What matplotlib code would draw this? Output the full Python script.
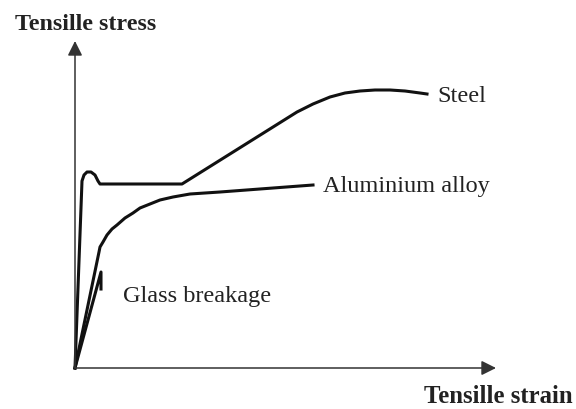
import matplotlib
matplotlib.use("Agg")
import matplotlib.pyplot as plt

# curves (strain, stress in arbitrary units, origin at 0,0)
steel_x = [0, 7, 9, 12, 16, 20, 23, 25, 107, 222, 238, 255, 270, 285, 300, 315, 330, 345, 352]
steel_y = [0, 187, 193, 196, 196, 193, 187, 184, 184, 256, 264, 271, 275, 277, 278, 278, 277, 275, 274]

alu_x = [0, 24, 25, 28, 32, 37, 42, 50, 58, 65, 75, 85, 98, 115, 130, 145, 238]
alu_y = [0, 116, 121, 126, 133, 139, 143, 150, 155, 160, 164, 168, 171, 174, 175, 176, 183]

glass_x = [0, 26, 26]
glass_y = [0, 96, 79]

labels = ["Steel", "Aluminium alloy", "Glass breakage"]
label_pos = [(362, 273), (248, 182), (48, 72)]

fig = plt.figure(figsize=(5.76, 4.10), dpi=100)
ax = fig.add_axes([0, 0, 1, 1])
ax.set_xlim(-75, 501)
ax.set_ylim(-41, 369)
ax.axis("off")

plt.rcParams['font.family'] = ['Liberation Serif', 'DejaVu Serif']

# axes with arrows
ax.annotate("", xy=(0, 327), xytext=(0, 0),
            arrowprops=dict(arrowstyle="-|>", color="#333333", lw=1.1,
                            mutation_scale=22, shrinkA=0, shrinkB=0))
ax.annotate("", xy=(421, 0), xytext=(0, 0),
            arrowprops=dict(arrowstyle="-|>", color="#333333", lw=1.1,
                            mutation_scale=22, shrinkA=0, shrinkB=0))

lw = 2.2
ax.plot(steel_x, steel_y, color="#111111", lw=lw, solid_joinstyle="round")
ax.plot(alu_x, alu_y, color="#111111", lw=lw, solid_joinstyle="round")
ax.plot(glass_x, glass_y, color="#111111", lw=lw, solid_joinstyle="round")

for lab, (px, py) in zip(labels, label_pos):
    ax.text(px, py, lab, fontsize=17.5, color="#222222", va="center", ha="left")

ax.text(-60, 344, "Tensille stress", fontsize=17.3, fontweight="bold",
        color="#222222", va="center", ha="left")
ax.text(498, -28, "Tensille strain", fontsize=17.8, fontweight="bold",
        color="#222222", va="center", ha="right")

fig.savefig("out.png", dpi=100)
